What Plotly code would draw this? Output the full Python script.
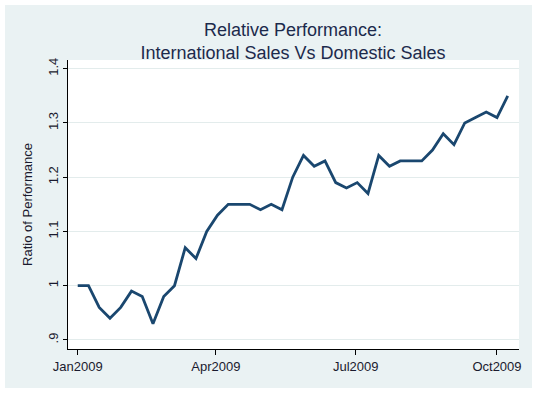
import pandas as pd
import plotly.graph_objects as go

dates = pd.date_range("2009-01-01", periods=41, freq="7D")
ratio = [1.00, 1.00, 0.96, 0.94, 0.96, 0.99, 0.98, 0.93, 0.98, 1.00,
         1.07, 1.05, 1.10, 1.13, 1.15, 1.15, 1.15, 1.14, 1.15, 1.14,
         1.20, 1.24, 1.22, 1.23, 1.19, 1.18, 1.19, 1.17, 1.24, 1.22,
         1.23, 1.23, 1.23, 1.25, 1.28, 1.26, 1.30, 1.31, 1.32, 1.31, 1.35]

y_tickvals = [0.9, 1.0, 1.1, 1.2, 1.3, 1.4]
y_ticktext = [".9", "1", "1.1", "1.2", "1.3", "1.4"]
x_tickvals = ["2009-01-01", "2009-04-01", "2009-07-01", "2009-10-01"]
x_ticktext = ["Jan2009", "Apr2009", "Jul2009", "Oct2009"]

BG = "#EAF2F3"
LINE = "#1A476F"
TXT = "#1a1a2e"

fig = go.Figure()
fig.add_trace(go.Scatter(x=dates, y=ratio, mode="lines",
                         line=dict(color=LINE, width=2.8), showlegend=False,
                         hoverinfo="skip"))

W, H = 537, 393
L, R, T, B = 68, 18, 60, 44
pw, ph = W - L - R, H - T - B

def px_x(p):
    return (p - L) / pw

def px_y(p):
    return (H - B - p) / ph

fig.update_layout(
    width=W, height=H,
    margin=dict(l=L, r=R, t=T, b=B, autoexpand=False),
    paper_bgcolor="white",
    plot_bgcolor="rgba(0,0,0,0)",
    font=dict(family="Liberation Sans, Arial, sans-serif", color=TXT, size=13),
    title=dict(text="Relative Performance:<br>International Sales Vs Domestic Sales",
               x=293 / W, xanchor="center", xref="container",
               y=1 - 36 / H, yanchor="middle",
               font=dict(size=18, color="#1C2A4C")),
    shapes=[
        dict(type="rect", xref="paper", yref="paper", layer="below",
             x0=px_x(5), x1=px_x(532), y0=px_y(388), y1=px_y(5),
             fillcolor=BG, line=dict(width=0)),
        dict(type="rect", xref="paper", yref="paper", layer="below",
             x0=0, x1=1, y0=0, y1=1, fillcolor="white", line=dict(width=0)),
    ],
    xaxis=dict(range=["2008-12-25 16:00", "2009-10-15 08:00"],
               tickvals=x_tickvals, ticktext=x_ticktext, automargin=False,
               showgrid=False, zeroline=False,
               showline=True, linecolor="black", linewidth=1,
               ticks="outside", ticklen=5, tickcolor="black", tickwidth=1,
               tickfont=dict(size=13, color=TXT)),
    yaxis=dict(range=[0.8833, 1.416], automargin=False,
               tickvals=y_tickvals, ticktext=y_ticktext, tickangle=-90,
               showgrid=True, gridcolor="#E3ECEC", gridwidth=1, zeroline=False,
               showline=True, linecolor="black", linewidth=1,
               ticks="outside", ticklen=4, tickcolor="black", tickwidth=1,
               tickfont=dict(size=13, color=TXT),
               title=dict(text="Ratio of Performance", standoff=10,
                          font=dict(size=13, color=TXT))),
)

fig.write_html("out.html",
               config={"displayModeBar": False},
               post_script="document.body.style.margin='0';document.body.style.padding='0';")
